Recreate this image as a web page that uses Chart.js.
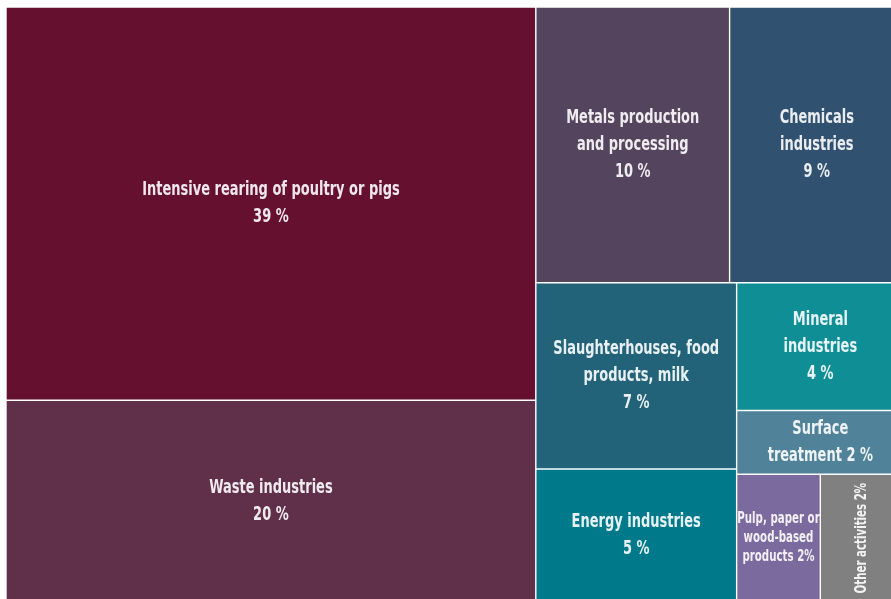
<!DOCTYPE html>
<html>
<head>
<meta charset="utf-8">
<script src="https://cdn.jsdelivr.net/npm/chart.js@4.4.1/dist/chart.umd.min.js"></script>
<style>
  html, body { margin: 0; padding: 0; background: #fff; overflow: hidden; }
  #wrap { position: absolute; left: 0; top: 0; width: 904px; height: 602px; }
</style>
</head>
<body>
<div id="wrap"><canvas id="chartContainer" width="904" height="602"></canvas></div>
<script>
// 1: data
// sectors and their share of facilities (%)
let sectors = [
  'Intensive rearing of poultry or pigs',
  'Waste industries',
  'Metals production and processing',
  'Chemicals industries',
  'Slaughterhouses, food products, milk',
  'Energy industries',
  'Mineral industries',
  'Surface treatment',
  'Pulp, paper or wood-based products',
  'Other activities'
];
let shares = [39, 20, 10, 9, 7, 5, 4, 2, 2, 2];

// text written in each cell, {v} gets the share
let labelLines = [
  ['Intensive rearing of poultry or pigs', '{v} %'],
  ['Waste industries', '{v} %'],
  ['Metals production', 'and processing', '{v} %'],
  ['Chemicals', 'industries', '{v} %'],
  ['Slaughterhouses, food', 'products, milk', '{v} %'],
  ['Energy industries', '{v} %'],
  ['Mineral', 'industries', '{v} %'],
  ['Surface', 'treatment {v} %'],
  ['Pulp, paper or', 'wood-based', 'products {v}%'],
  ['Other activities {v}%']
];

// groups of sector indexes, split left/right then top/bottom in turn
let nesting = [[0, 1], [[2, 3], [[4, 5], [6, 7, [8, 9]]]]];

let colors = ['#65102f', '#60304a', '#55445e', '#305170', '#22637a',
  '#00798a', '#108e96', '#508299', '#7b6a9d', '#808080'];

const FONT = "'DejaVu Sans Condensed', 'DejaVu Sans', sans-serif";
const SQUEEZE = 0.76; // narrow the lettering a bit

// 2: layout
function total(node) {
  return Array.isArray(node) ? node.reduce((s, n) => s + total(n), 0) : shares[node];
}

// slice and dice inside a 0..100 square
function layout(node, x0, y0, x1, y1, depth, out) {
  if (!Array.isArray(node)) {
    out[node] = { x0, y0, x1, y1 };
    return out;
  }
  let sum = total(node);
  let pos = depth % 2 === 0 ? x0 : y0;
  for (const child of node) {
    let f = total(child) / sum;
    if (depth % 2 === 0) {
      let w = (x1 - x0) * f;
      layout(child, pos, y0, pos + w, y1, depth + 1, out);
      pos += w;
    } else {
      let h = (y1 - y0) * f;
      layout(child, x0, pos, x1, pos + h, depth + 1, out);
      pos += h;
    }
  }
  return out;
}

// 3: a small treemap controller, each cell is a bar element placed on the x/y scales
class TreemapController extends Chart.DatasetController {
  update(mode) {
    const meta = this._cachedMeta;
    this.updateElements(meta.data, 0, meta.data.length, mode);
  }

  updateElements(rects, start, count, mode) {
    const { xScale, yScale } = this._cachedMeta;
    const data = this.getDataset().data;
    for (let i = start; i < start + count; i++) {
      const d = data[i];
      const left = xScale.getPixelForValue(d.x0);
      const right = xScale.getPixelForValue(d.x1);
      const top = yScale.getPixelForValue(d.y0);
      const bottom = yScale.getPixelForValue(d.y1);
      this.updateElement(rects[i], i, {
        x: (left + right) / 2,
        y: top,
        base: bottom,
        width: right - left,
        height: bottom - top,
        horizontal: false,
        borderSkipped: {},
        inflateAmount: 0,
        enableBorderRadius: false,
        options: this.resolveDataElementOptions(i, mode)
      }, mode);
    }
  }
}
TreemapController.id = 'treemap';
TreemapController.defaults = { datasetElementType: false, dataElementType: 'bar' };
TreemapController.overrides = { scales: { x: { type: 'linear' }, y: { type: 'linear' } } };
Chart.register(TreemapController);

// labels in the middle of each cell, smaller or turned when they don't fit
const cellLabels = {
  id: 'cellLabels',
  afterDatasetsDraw(chart) {
    const ctx = chart.ctx;
    const cells = chart.getDatasetMeta(0).data;
    ctx.save();
    ctx.fillStyle = 'rgba(255, 255, 255, 0.9)';
    ctx.textAlign = 'center';
    ctx.textBaseline = 'middle';
    cells.forEach((cell, i) => {
      const lines = labelLines[i].map(l => l.replace('{v}', shares[i]));
      const widest = () => SQUEEZE * Math.max(...lines.map(l => ctx.measureText(l).width));
      let lineHeight = 27;
      let turned = false;
      ctx.font = 'bold 19px ' + FONT;
      if (widest() > cell.width - 6) {
        ctx.font = 'bold 15px ' + FONT;
        lineHeight = 19;
        turned = widest() > cell.width + 4;
      }
      ctx.save();
      ctx.translate(cell.x, (cell.y + cell.base) / 2);
      if (turned) ctx.rotate(-Math.PI / 2);
      ctx.scale(SQUEEZE, 1);
      lines.forEach((line, k) => {
        ctx.fillText(line, 0, (k - (lines.length - 1) / 2) * lineHeight);
      });
      ctx.restore();
    });
    ctx.restore();
  }
};

// 4: create the chart
function appendChart() {
  let boxes = layout(nesting, 0, 0, 100, 100, 0, []);
  let cells = boxes.map(b => ({
    x: (b.x0 + b.x1) / 2,
    y: (b.y0 + b.y1) / 2,
    x0: b.x0, x1: b.x1, y0: b.y0, y1: b.y1
  }));

  let chartContainer = document.getElementById('chartContainer');
  new Chart(chartContainer, {
    type: 'treemap',
    data: {
      labels: sectors,
      datasets: [{
        data: cells,
        backgroundColor: colors,
        borderColor: 'rgba(255, 255, 255, 0.4)',
        borderWidth: 0.7
      }]
    },
    options: {
      responsive: false,
      animation: false,
      devicePixelRatio: 1,
      layout: { padding: { left: 6, top: 7, right: 0, bottom: 0 } },
      scales: {
        x: { type: 'linear', min: 0, max: 100, display: false },
        y: { type: 'linear', min: 0, max: 100, reverse: true, display: false }
      },
      plugins: {
        legend: { display: false },
        tooltip: { enabled: false }
      }
    },
    plugins: [cellLabels]
  });
}

appendChart();
</script>
</body>
</html>
